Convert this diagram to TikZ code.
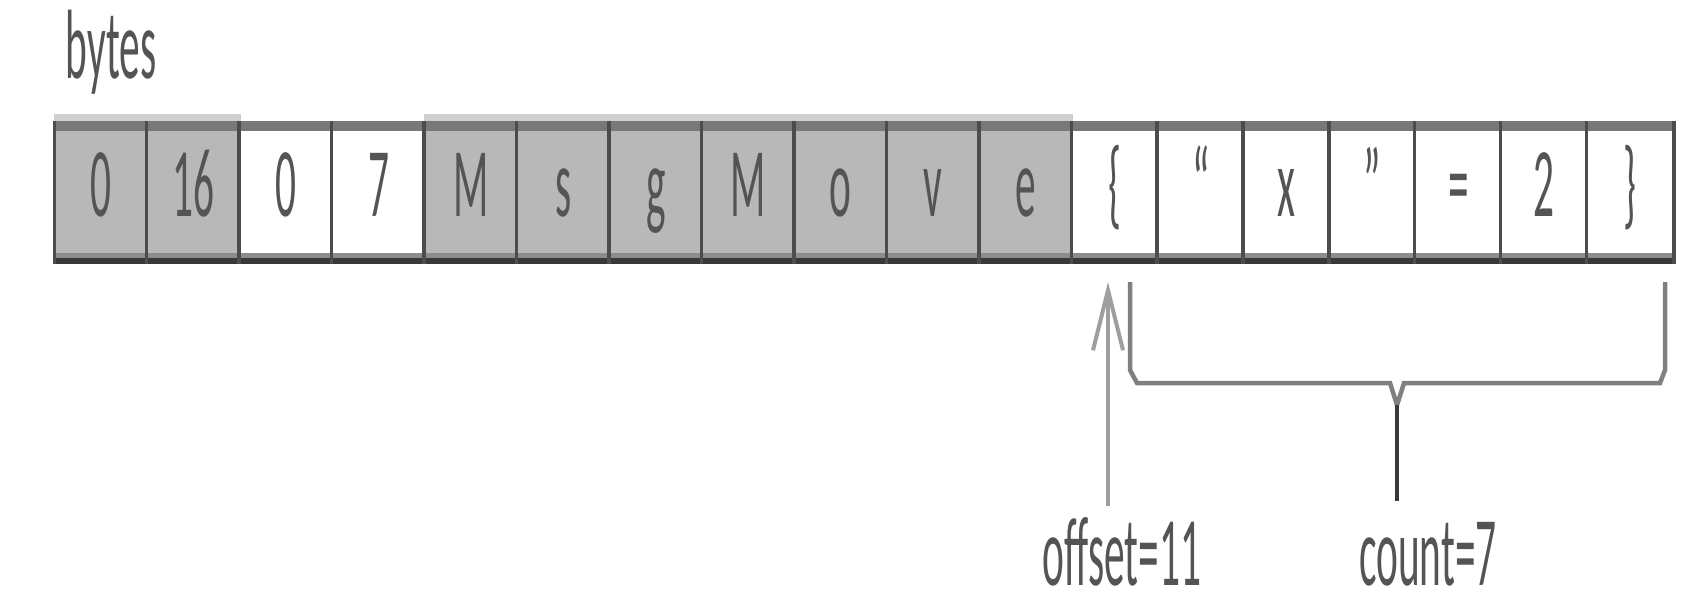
\documentclass[tikz,border=0pt]{standalone}
\usepackage{fontspec}
\setmainfont{Carlito}[FakeStretch=0.42]
\usetikzlibrary{arrows.meta,calc}
\definecolor{CellClr}{rgb}{0.72,0.72,0.72}
\definecolor{EdgeClr}{rgb}{0.3,0.3,0.3}
\definecolor{TopClr}{rgb}{0.47,0.47,0.47}
\definecolor{HiClr}{rgb}{0.81,0.81,0.81}
\definecolor{BotClr}{rgb}{0.55,0.55,0.55}
\definecolor{BotDarkClr}{rgb}{0.22,0.22,0.22}
\definecolor{TextClr}{rgb}{0.33,0.33,0.33}
\definecolor{BraceClr}{rgb}{0.5,0.5,0.5}
\definecolor{PtrClr}{rgb}{0.62,0.62,0.62}

\begin{document}
\begin{tikzpicture}[x=0.01cm,y=-0.01cm,
  txt/.style={font=\fontsize{28}{30}\selectfont,text=TextClr,inner sep=0pt,text height=20.5pt,text depth=7pt},
  cell/.style={txt,minimum height=1.41cm,minimum width=#1},
  sep/.style={draw=EdgeClr,line width=0.035cm},
  ptr/.style={draw=PtrClr,line width=0.04cm,-{Straight Barb[length=0.6cm,width=0.3cm]}},
  brace/.style={draw=BraceClr,line width=0.045cm},
  stem/.style={draw=BotDarkClr,line width=0.04cm}]
\useasboundingbox (0,0) rectangle (1698,611);

\node[txt,anchor=base] (title) at (111,78) {bytes};

\foreach \t/\f [count=\i] in {0/CellClr,16/CellClr,0/white,7/white,M/CellClr,s/CellClr,g/CellClr,M/CellClr,o/CellClr,v/CellClr,e/CellClr}
  \node[cell=0.9245cm,fill=\f] (byte\i) at ({55+(\i-0.5)*92.45},192.5) {\t};
\foreach \t [count=\i from 12] in {\{,“,x,”,=,2,\}}
  \node[cell=0.8586cm,fill=white] (byte\i) at ({1072+(\i-11.5)*85.86},192.5) {\t};

\fill[HiClr] ($(byte1.north west)+(0,-7)$) rectangle (byte2.north east);
\fill[HiClr] ($(byte5.north west)+(0,-7)$) rectangle (byte11.north east);
\fill[TopClr] (byte1.north west) rectangle ($(byte18.north east)+(0,10)$);
\fill[BotClr] ($(byte1.south west)+(0,-11)$) rectangle ($(byte18.south east)+(0,-6)$);
\fill[BotDarkClr] ($(byte1.south west)+(0,-6)$) rectangle (byte18.south east);
\foreach \i in {1,...,18}
  \draw[sep] (byte\i.north west) -- (byte\i.south west);
\draw[sep] (byte18.north east) -- (byte18.south east);

\coordinate (ax) at (1108,282);
\coordinate (brL) at (1130,282);
\coordinate (brR) at (1665,282);
\coordinate (brV) at (1397,405);

\node[txt,anchor=base] (offtxt) at (1122,585) {offset=11};
\node[txt,anchor=base] (cnttxt) at (1428,585) {count=7};

\draw[ptr,shorten <=0.06cm] (offtxt.north -| ax) -- (ax);
\draw[brace] (brL) -- (1130,370) -- (1137,383) -- (1390,383) -- (brV) -- (1404,383) -- (1660,383) -- (1665,370) -- (brR);
\draw[stem,shorten >=0.11cm] (brV) -- (brV |- cnttxt.north);

\end{tikzpicture}
\end{document}
